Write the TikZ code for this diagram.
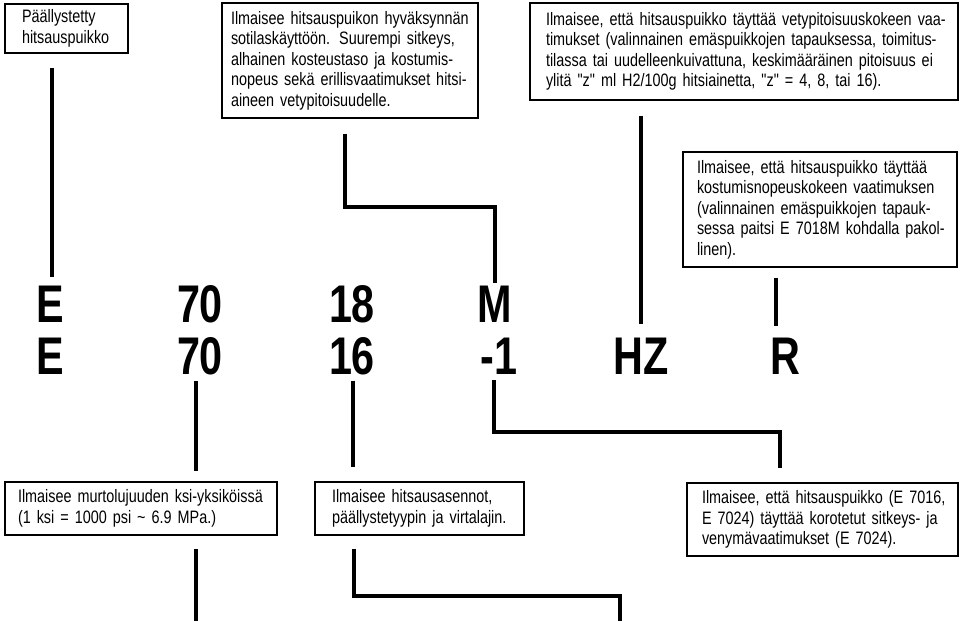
\documentclass[tikz,border=0pt]{standalone}
\usepackage{fontspec}
\setmainfont{Liberation Sans}[FakeStretch=0.8,Ligatures=TeXOff]
\newfontfamily\codefamily{Liberation Sans Bold}[FakeStretch=0.78]
\newcommand\notefont{\fontsize{18}{20.5}\selectfont}
\newcommand\codefont{\codefamily\fontsize{53}{53}\selectfont}
\newcommand\jl[1]{\makebox[\hsize][s]{#1}\\}

\begin{document}
\begin{tikzpicture}
  [x=1pt,y=-1pt,
   note/.style={draw,line width=1.2pt,inner sep=0pt,align=left,font=\notefont},
   code/.style={inner sep=0pt,anchor=base,font=\codefont},
   link/.style={line width=3.3pt}]
  \useasboundingbox (0,0) rectangle (963,621);

  \node [note,minimum width=123pt,minimum height=49pt,text width=89pt] (b1) at (66.5,28.5)
    {Päällystetty\\hitsauspuikko};
  \node [note,minimum width=256pt,minimum height=115pt,text width=238pt] (b2) at (350,60.5)
    {\jl{Ilmaisee hitsauspuikon hyväksynnän}
     \jl{sotilaskäyttöön. Suurempi sitkeys,}
     \jl{alhainen kosteustaso ja kostumis-}
     \jl{nopeus sekä erillisvaatimukset hitsi-}
     aineen vetypitoisuudelle.};
  \node [note,minimum width=428pt,minimum height=97pt,text width=396pt] (b3) at (744,51.5)
    {\jl{Ilmaisee, että hitsauspuikko täyttää vetypitoisuuskokeen vaa-}
     \jl{timukset (valinnainen emäspuikkojen tapauksessa, toimitus-}
     \jl{tilassa tai uudelleenkuivattuna, keskimääräinen pitoisuus ei}
     ylitä "z" ml H2/100g hitsiainetta, "z" = 4, 8, tai 16).};
  \node [note,minimum width=274pt,minimum height=115pt,text width=246pt] (b4) at (820,209.5)
    {\jl{Ilmaisee, että hitsauspuikko täyttää}
     \jl{kostumisnopeuskokeen vaatimuksen}
     \jl{(valinnainen emäspuikkojen tapauk-}
     \jl{sessa paitsi E 7018M kohdalla pakol-}
     linen).};
  \node [note,minimum width=272pt,minimum height=53pt,text width=246pt] (b5) at (141,508.5)
    {\mbox{Ilmaisee murtolujuuden ksi-yksiköissä}\\(1 ksi = 1000 psi \textasciitilde{} 6.9 MPa.)};
  \node [note,minimum width=209pt,minimum height=53pt,text width=175pt] (b6) at (419.5,508.5)
    {Ilmaisee hitsausasennot,\\päällystetyypin ja virtalajin.};
  \node [note,minimum width=271pt,minimum height=73pt,text width=241pt] (b7) at (822.5,519.5)
    {\mbox{Ilmaisee, että hitsauspuikko (E 7016,}\\\mbox{E 7024) täyttää korotetut sitkeys- ja}\\venymävaatimukset (E 7024).};

  \foreach \name/\x/\y/\txt in {e1/50/322/E,n1/200/322/70,t1/352/322/18,m1/495/322/M,
      e2/50/374/E,n2/200/374/70,t2/352/374/16,d2/499/374/-1,h2/641/374/HZ,r2/785/374/R}
    \node [code] (\name) at (\x,\y) {\txt};

  \draw [link,shorten <=14pt,shorten >=8pt] (b1.south -| 52,0) -- (e1.north -| 52,0);
  \draw [link,shorten <=15pt,shorten >=2pt] (b2.south -| 345,0) -- (345,207) -| (m1.north);
  \draw [link,shorten <=15pt,shorten >=13pt] (b3.south -| h2.north) -- (h2.north);
  \draw [link,shorten <=10pt,shorten >=11pt] (b4.south -| 776,0) -- (r2.north -| 776,0);
  \draw [link,shorten <=6pt,shorten >=10pt] (n2.south -| 196,0) -- (b5.north -| 196,0);
  \draw [link,shorten <=6pt,shorten >=14pt] (t2.south -| 353,0) -- (b6.north -| 353,0);
  \draw [link,shorten <=6pt,shorten >=14pt] (d2.south -| 494,0) -- (494,432) -| (b7.north -| 780,0);

  \coordinate (n3) at (196,621);
  \coordinate (t3) at (620,621);
  \draw [link,shorten <=13pt] (b5.south -| 196,0) -- (n3);
  \draw [link,shorten <=13pt] (b6.south -| 354,0) -- (354,596) -| (t3);

\end{tikzpicture}
\end{document}
